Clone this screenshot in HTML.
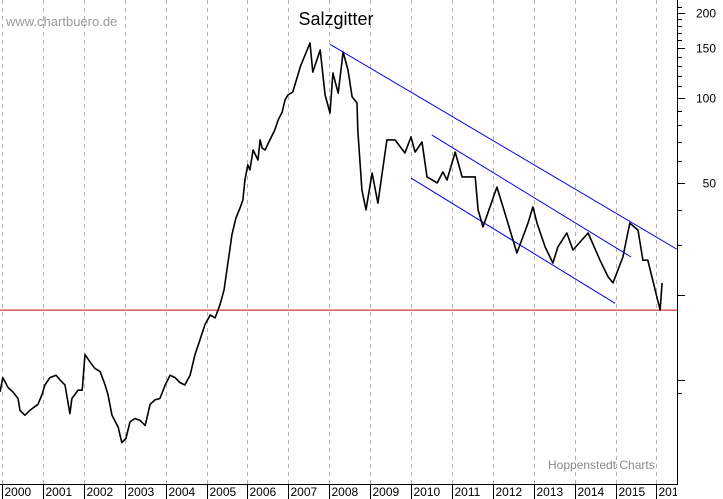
<!DOCTYPE html>
<html><head><meta charset="utf-8"><style>
html,body{margin:0;padding:0;background:#fff;}
svg{display:block;font-family:"Liberation Sans",sans-serif;}
</style></head><body>
<svg id="chart" width="723" height="499" viewBox="0 0 723 499" xmlns="http://www.w3.org/2000/svg">
<defs>
<clipPath id="plotclip"><rect x="0" y="0" width="677" height="484"/></clipPath>
<clipPath id="xlabclip"><rect x="0" y="484" width="677" height="15"/></clipPath>
</defs>
<rect x="0" y="0" width="723" height="499" fill="#fff"/>
<g id="grid"></g>
<g id="marks" clip-path="url(#plotclip)"></g>
<g id="xlabels" clip-path="url(#xlabclip)"></g>
<g id="axes"></g>
<text x="6" y="26" font-size="13" fill="#9a9a9a">www.chartbuero.de</text>
<text x="336" y="25" font-size="18" text-anchor="middle" fill="#000">Salzgitter</text>
<text x="548" y="469" font-size="12" fill="#8a8a8a">Hoppenstedt Charts</text>
</svg>
<script>
const years = [2000,2001,2002,2003,2004,2005,2006,2007,2008,2009,2010,2011,2012,2013,2014,2015,2016];
const yTickValues = [200,150,100,50,20,10];
const yTickLabels = ["200","150","100","50","",""];
const yMinorValues = [210,190,180,170,160,140,130,120,110,90,80,70,60,40,30,9];
const dates = [1999.95,2000.02,2000.15,2000.27,2000.39,2000.44,2000.56,2000.68,2000.88,2000.98,2001.05,2001.17,2001.32,2001.42,2001.54,2001.66,2001.71,2001.86,2001.96,2002.03,2002.15,2002.27,2002.40,2002.52,2002.59,2002.69,2002.84,2002.93,2003.03,2003.13,2003.25,2003.37,2003.50,2003.62,2003.74,2003.86,2003.99,2004.11,2004.23,2004.35,2004.47,2004.60,2004.72,2004.84,2004.96,2005.09,2005.21,2005.33,2005.43,2005.50,2005.57,2005.62,2005.72,2005.82,2005.89,2005.94,2006.01,2006.06,2006.14,2006.26,2006.31,2006.36,2006.43,2006.55,2006.67,2006.75,2006.85,2006.92,2006.99,2007.11,2007.30,2007.53,2007.60,2007.78,2007.90,2008.02,2008.09,2008.22,2008.34,2008.46,2008.56,2008.68,2008.70,2008.80,2008.90,2009.05,2009.19,2009.41,2009.61,2009.85,2010.00,2010.10,2010.27,2010.39,2010.64,2010.78,2010.88,2011.08,2011.25,2011.57,2011.64,2011.76,2012.10,2012.25,2012.42,2012.59,2012.86,2012.98,2013.08,2013.28,2013.47,2013.59,2013.81,2013.96,2014.33,2014.62,2014.82,2014.94,2015.18,2015.35,2015.55,2015.67,2015.79,2015.91,2016.09,2016.14];
const prices = [9.07,10.2,9.4,9.07,8.6,7.8,7.5,7.8,8.2,8.9,9.6,10.2,10.4,10.0,9.6,7.6,8.6,9.2,9.2,12.3,11.6,11.0,10.7,9.6,8.9,7.5,6.8,6.0,6.2,7.1,7.3,7.2,6.9,8.2,8.5,8.6,9.6,10.4,10.2,9.8,9.6,10.4,12.3,13.9,15.7,17.0,16.6,18.5,20.9,24.6,28.9,32.7,37.5,40.7,43.5,51.2,57.9,55.6,65.4,60.3,71.0,66.5,65.4,71.0,77.0,83.5,89.2,98.4,102.5,105,130,156.7,123.6,148,102.5,88.5,122.6,104,145.6,125.7,101,96,77,47.2,40.1,54.2,42.4,71.0,71.0,63.8,72.7,64.3,69.8,52.5,50.0,54.7,51.2,64.3,52.5,52.5,40.1,34.9,48.3,41.1,34.0,28.2,36.0,41.1,36.0,29.6,26.0,29.6,33.2,28.9,33.2,26.6,23.2,22.1,27.3,36.0,34.0,26.6,26.6,22.6,17.7,22.1];
const trendStartDates = [2008.02,2010.51,2010.0];
const trendStartPrices = [155,73.9,52.0];
const trendEndDates = [2016.50,2015.38,2014.99];
const trendEndPrices = [29.1,27.3,18.7];
const supportLevel = 17.7;

const NS = "http://www.w3.org/2000/svg";
const xs = t => 2 + (t - 2000) * 40.9;
const ys = v => 98 - 282 * Math.log10(v / 100);
function mk(tag, attrs, parent){const e=document.createElementNS(NS,tag);for(const k in attrs)e.setAttribute(k,attrs[k]);parent.appendChild(e);return e;}
const grid=document.getElementById('grid'), marks=document.getElementById('marks'), axes=document.getElementById('axes'), xlabels=document.getElementById('xlabels');

years.forEach(y=>{
  const x=Math.round(xs(y))+0.5;
  if(x<677){
    const g=mk('line',{x1:x,y1:0,x2:x,y2:484,stroke:'#b0b0b0','stroke-dasharray':'4,4','stroke-width':1},grid);
    
    
  }
  const tk=mk('line',{x1:x,y1:484,x2:x,y2:499,stroke:'#000','stroke-width':1},xlabels);
  
  
  const lb=mk('text',{x:x+2,y:496,'font-size':12,fill:'#000'},xlabels);
  lb.textContent=String(y);
  
  
});

const sup=mk('line',{x1:0,y1:ys(supportLevel),x2:677,y2:ys(supportLevel),stroke:'#cc0000','stroke-width':1},marks);



trendStartDates.forEach((d,i)=>{
  const l=mk('line',{x1:xs(d),y1:ys(trendStartPrices[i]),x2:xs(trendEndDates[i]),y2:ys(trendEndPrices[i]),stroke:'#0000ee','stroke-width':1},marks);
  
  
});

const pts=dates.map((d,i)=>xs(d).toFixed(1)+','+ys(prices[i]).toFixed(1)).join(' ');
const pl=mk('polyline',{points:pts,fill:'none',stroke:'#000','stroke-width':1.6,'stroke-linejoin':'round'},marks);



const frame=mk('path',{d:'M677.5,0V484.5H0',fill:'none',stroke:'#000','stroke-width':1},axes);



yTickValues.forEach((v,i)=>{
  const y=Math.round(ys(v))+0.5;
  const t=mk('line',{x1:677,y1:y,x2:685,y2:y,stroke:'#000'},axes);
  
  
  if(yTickLabels[i]){
    const lb=mk('text',{x:716,y:y+4,'font-size':12,'text-anchor':'end',fill:'#000'},axes);
    lb.textContent=yTickLabels[i];
    
    
  }
});
yMinorValues.forEach(v=>{
  const y=Math.round(ys(v))+0.5;
  const t=mk('line',{x1:677,y1:y,x2:682,y2:y,stroke:'#000'},axes);
  
  
});
</script>
</body></html>
